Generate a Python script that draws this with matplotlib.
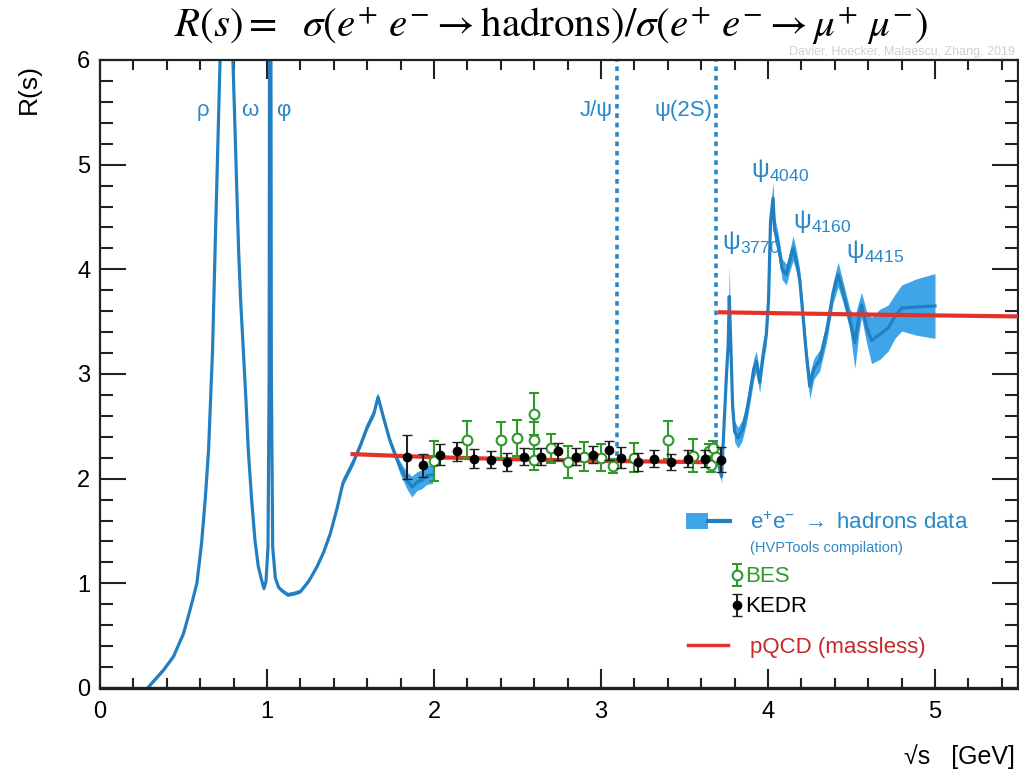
import matplotlib
matplotlib.use("Agg")
import matplotlib.pyplot as plt
from matplotlib.lines import Line2D
from matplotlib.patches import Patch
from matplotlib.legend_handler import HandlerTuple
from matplotlib.ticker import MultipleLocator

# ---------------- data ----------------
# e+e- -> hadrons compilation, low-energy part: sqrt(s) [GeV], R, band half-width
low_x = [0.285, 0.38, 0.44, 0.50, 0.54, 0.58, 0.608, 0.63, 0.65, 0.662, 0.674, 0.689,
         0.719, 0.74, 0.765, 0.782, 0.796, 0.83, 0.842, 0.858, 0.874, 0.888, 0.908,
         0.928, 0.948, 0.968, 0.982, 0.994, 1.006, 1.013, 1.019, 1.026, 1.034, 1.05,
         1.07, 1.09, 1.125, 1.16, 1.20, 1.25, 1.30, 1.34, 1.38, 1.42, 1.455, 1.515,
         1.56, 1.60, 1.64, 1.665, 1.70, 1.735, 1.77, 1.80, 1.84, 1.87, 1.90, 1.93,
         1.96, 1.995]
low_r = [0.00, 0.17, 0.30, 0.52, 0.75, 1.00, 1.38, 1.80, 2.27, 2.75, 3.23, 4.18,
         6.0, 7.3, 8.0, 7.6, 6.0, 4.18, 3.71, 3.23, 2.75, 2.27, 1.80,
         1.41, 1.16, 1.03, 0.95, 1.02, 1.35, 3.0, 12.0, 3.0, 1.35, 1.05,
         0.96, 0.93, 0.89, 0.90, 0.92, 1.02, 1.16, 1.30, 1.48, 1.72, 1.96, 2.15,
         2.32, 2.49, 2.62, 2.78, 2.57, 2.37, 2.22, 2.10, 1.98, 1.92, 1.97, 1.99,
         2.03, 2.04]
low_err = [0.02] * 44 + [0.04] * 9 + [0.06, 0.08, 0.10, 0.09, 0.09, 0.09, 0.09]

# charmonium region
high_x = [3.700, 3.712, 3.722, 3.735, 3.750, 3.762, 3.768, 3.776, 3.788, 3.800,
          3.820, 3.845, 3.870, 3.895, 3.915, 3.930, 3.950, 3.970, 3.990, 4.003,
          4.015, 4.030, 4.040, 4.060, 4.085, 4.110, 4.130, 4.150, 4.170, 4.190,
          4.210, 4.230, 4.250, 4.275, 4.310, 4.350, 4.390, 4.420, 4.450, 4.490,
          4.520, 4.545, 4.560, 4.590, 4.620, 4.670, 4.720, 4.760, 4.800, 4.890, 5.000]
high_r = [2.18, 2.08, 2.02, 2.45, 2.95, 3.30, 3.74, 3.35, 2.70, 2.45,
          2.39, 2.46, 2.62, 2.85, 3.05, 3.12, 2.92, 3.18, 3.38, 3.70,
          4.45, 4.68, 4.38, 4.25, 4.00, 3.95, 4.08, 4.20, 4.08, 3.90,
          3.55, 3.18, 2.88, 3.05, 3.13, 3.40, 3.78, 3.95, 3.78, 3.52,
          3.30, 3.55, 3.66, 3.45, 3.32, 3.38, 3.44, 3.55, 3.63, 3.64, 3.65]
high_err = [0.04, 0.06, 0.06, 0.07, 0.08, 0.08, 0.30, 0.08, 0.08, 0.10,
            0.10, 0.10, 0.10, 0.10, 0.10, 0.10, 0.10, 0.10, 0.10, 0.10,
            0.12, 0.15, 0.12, 0.10, 0.10, 0.10, 0.10, 0.12, 0.10, 0.10,
            0.10, 0.10, 0.12, 0.10, 0.10, 0.10, 0.10, 0.12, 0.10, 0.10,
            0.25, 0.15, 0.12, 0.15, 0.22, 0.24, 0.22, 0.21, 0.22, 0.27, 0.31]

# BES measurements
bes_x = [2.00, 2.20, 2.40, 2.50, 2.60, 2.60, 2.60, 2.70, 2.80, 2.90, 3.00, 3.07,
         3.20, 3.40, 3.55, 3.648, 3.66, 3.672, 3.69]
bes_r = [2.17, 2.37, 2.37, 2.39, 2.62, 2.37, 2.18, 2.29, 2.16, 2.21, 2.20, 2.12,
         2.20, 2.37, 2.22, 2.26, 2.13, 2.29, 2.21]
bes_err = [0.19, 0.18, 0.17, 0.17, 0.20, 0.17, 0.10, 0.14, 0.15, 0.14, 0.13, 0.07,
           0.14, 0.18, 0.16, 0.07, 0.07, 0.07, 0.07]

# KEDR measurements
kedr_x = [1.84, 1.936, 2.036, 2.136, 2.24, 2.34, 2.44, 2.54, 2.64, 2.74, 2.85, 2.95,
          3.05, 3.12, 3.22, 3.32, 3.42, 3.52, 3.62, 3.72]
kedr_r = [2.21, 2.13, 2.23, 2.26, 2.19, 2.18, 2.16, 2.21, 2.21, 2.26, 2.21, 2.23,
          2.27, 2.20, 2.16, 2.19, 2.16, 2.19, 2.19, 2.18]
kedr_err = [0.21, 0.11, 0.10, 0.09, 0.09, 0.08, 0.09, 0.08, 0.08, 0.08, 0.08, 0.08,
            0.09, 0.10, 0.09, 0.08, 0.08, 0.08, 0.08, 0.12]

# pQCD (massless) prediction
pqcd_low_x = [1.5, 2.0, 2.5, 3.0, 3.5, 3.72]
pqcd_low_r = [2.235, 2.205, 2.185, 2.17, 2.16, 2.155]
pqcd_high_x = [3.70, 4.5, 5.5]
pqcd_high_r = [3.59, 3.57, 3.55]

# narrow charmonium states (dotted lines)
narrow_x = [3.097, 3.686]
narrow_labels = ["J/ψ", "ψ(2S)"]

# ---------------- styling ----------------
BLUE_LINE = "#2280c0"
BLUE_BAND = "#3ea6e8"
BLUE_TEXT = "#2a88c6"
GREEN = "#2f9a2a"
RED = "#e2332b"
RED_TEXT = "#c4282a"
SANS = ["Liberation Sans", "DejaVu Sans"]

plt.rcParams["font.family"] = SANS
plt.rcParams["mathtext.fontset"] = "custom"
plt.rcParams["mathtext.rm"] = "Liberation Sans"
plt.rcParams["mathtext.it"] = "Liberation Sans:italic"
plt.rcParams["mathtext.bf"] = "Liberation Sans:bold"

fig = plt.figure(figsize=(10.2, 7.77), dpi=100)
ax = fig.add_axes([100 / 1020, 89 / 777, 918.5 / 1020, 628 / 777])

# HVP band + central line
for xs, rs, es in ((low_x, low_r, low_err), (high_x, high_r, high_err)):
    lo = [r - e for r, e in zip(rs, es)]
    hi = [r + e for r, e in zip(rs, es)]
    ax.fill_between(xs, lo, hi, color=BLUE_BAND, lw=0, zorder=1)
    ax.plot(xs, rs, color=BLUE_LINE, lw=2.3, zorder=2)

# pQCD
ax.plot(pqcd_low_x, pqcd_low_r, color=RED, lw=3.0, zorder=3, solid_capstyle="butt")
ax.plot(pqcd_high_x, pqcd_high_r, color=RED, lw=3.0, zorder=3, solid_capstyle="butt")

# data points
bes = ax.errorbar(bes_x, bes_r, yerr=bes_err, fmt="o", ms=7, mfc="white", mec=GREEN,
                  mew=1.5, ecolor=GREEN, elinewidth=1.5, capsize=3.5, capthick=1.5,
                  zorder=4)
kedr = ax.errorbar(kedr_x, kedr_r, yerr=kedr_err, fmt="o", ms=6, color="black",
                   mew=1.0, ecolor="#222222", elinewidth=1.5, capsize=3.5,
                   capthick=1.5, zorder=5)

# narrow resonances
ax.vlines(narrow_x, 2.22, 6.0, colors=BLUE_TEXT, linestyles=(0, (1.3, 1.3)), lw=2.6,
          zorder=2)
ax.text(3.07, 5.52, narrow_labels[0], color=BLUE_TEXT, fontsize=16, ha="right",
        va="center")
ax.text(3.665, 5.52, narrow_labels[1], color=BLUE_TEXT, fontsize=16, ha="right",
        va="center")

# light resonance labels
for lab, xl in (("ρ", 0.617), ("ω", 0.898), ("φ", 1.096)):
    ax.text(xl, 5.52, lab, color=BLUE_TEXT, fontsize=16, ha="center", va="center")

# broad charmonium labels
for lab, xl, yl in (("3770", 3.722, 4.26), ("4040", 3.900, 4.94),
                    ("4160", 4.148, 4.46), ("4415", 4.470, 4.17)):
    ax.text(xl, yl, "ψ$_{%s}$" % lab, color=BLUE_TEXT, fontsize=18, ha="left",
            va="center")

# axes
ax.set_xlim(0, 5.5)
ax.set_ylim(0, 6)
ax.xaxis.set_major_locator(MultipleLocator(1))
ax.xaxis.set_minor_locator(MultipleLocator(0.2))
ax.yaxis.set_major_locator(MultipleLocator(1))
ax.yaxis.set_minor_locator(MultipleLocator(0.2))
ax.tick_params(axis="both", which="both", direction="in", top=True, right=True,
               width=1.5, colors="#222222", labelcolor="black")
ax.tick_params(axis="x", which="major", length=14, pad=9)
ax.tick_params(axis="x", which="minor", length=7)
ax.tick_params(axis="y", which="major", length=19, pad=7)
ax.tick_params(axis="y", which="minor", length=9.5)
for lbl in ax.get_xticklabels() + ax.get_yticklabels():
    lbl.set_fontsize(17)
for s in ax.spines.values():
    s.set_linewidth(1.6)
    s.set_color("#222222")
ax.spines["bottom"].set_linewidth(2.4)

# axis titles
fig.text(29 / 1020, 1 - 89 / 777, "R(s)", rotation=90, fontsize=19, ha="center",
         va="center")
fig.text(1015 / 1020, 1 - 757 / 777, "√s   [GeV]", fontsize=18, ha="right",
         va="center")

# top title
fig.text(551 / 1020, 1 - 26 / 777,
         r"$R(s) =\ \ \sigma(e^{+}\ e^{-} \rightarrow \mathrm{hadrons})/\sigma(e^{+}\ e^{-} \rightarrow \mu^{+}\ \mu^{-})$",
         fontsize=29.5, ha="center", va="center", math_fontfamily="stix")

# faint credit
fig.text(1015 / 1020, 1 - 52 / 777, "Davier, Hoecker, Malaescu, Zhang, 2019",
         fontsize=9, color="#d0d0d0", ha="right", va="center")

# legends (one row each)
def row(handles, labels, x_px, y_px, color, hl, tp, size=16):
    leg = fig.legend(handles, labels, loc="center left",
                     bbox_to_anchor=(x_px / 1020, 1 - y_px / 777),
                     frameon=False, borderpad=0, borderaxespad=0, fontsize=size,
                     handlelength=hl, handletextpad=tp,
                     handler_map={tuple: HandlerTuple(ndivide=None, pad=0)})
    for t in leg.get_texts():
        t.set_color(color)
    return leg

band_handle = (Patch(facecolor=BLUE_BAND, edgecolor="none"),
               Line2D([], [], color=BLUE_LINE, lw=3))
row([band_handle], ["e$^{+}$e$^{-}$ $\\rightarrow$ hadrons data"], 686, 523,
    BLUE_TEXT, 2.0, 0.9)
fig.text(750 / 1020, 1 - 548 / 777, "(HVPTools compilation)", fontsize=10.5,
         color=BLUE_TEXT, ha="left", va="center")
row([bes], ["BES"], 731, 577, GREEN, 0.5, 0.15)
row([kedr], ["KEDR"], 731, 607, "black", 0.5, 0.15)
row([Line2D([], [], color=RED, lw=2.5)], ["pQCD (massless)"], 688, 647, RED_TEXT,
    1.8, 1.0)

fig.savefig("out.png", dpi=100)
